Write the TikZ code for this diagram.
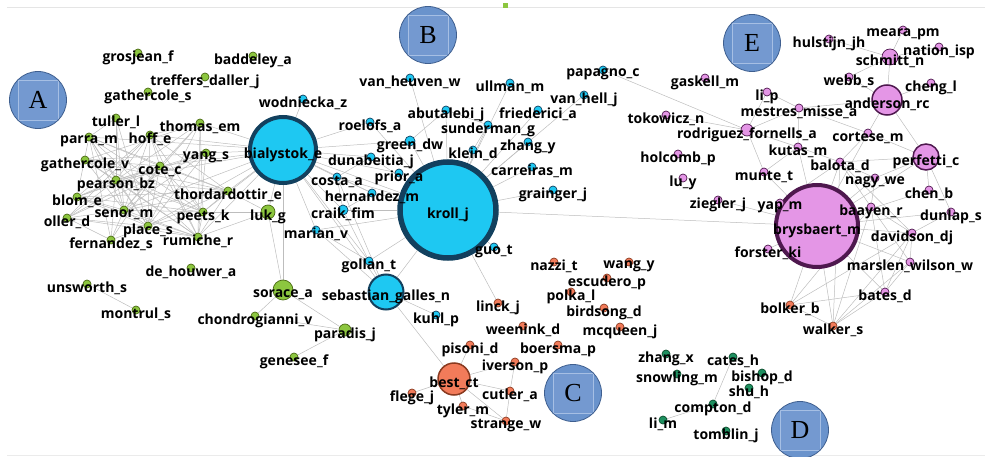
\documentclass[tikz,border=0pt]{standalone}
\usepackage{fontspec}
\usepackage{xcolor}
\usepackage{tikz}
\usetikzlibrary{backgrounds}
\newfontfamily\osans{Open Sans}
\newfontfamily\tagfont{Liberation Serif}

\definecolor{grnfill}{HTML}{8CC63F}
\definecolor{grnline}{HTML}{4A6A12}
\definecolor{bluefill}{HTML}{1EC8F2}
\definecolor{blueline}{HTML}{12405E}
\definecolor{orfill}{HTML}{F27B5A}
\definecolor{orline}{HTML}{8A3A20}
\definecolor{pinkfill}{HTML}{E496E6}
\definecolor{pinkline}{HTML}{4E184E}
\definecolor{dgfill}{HTML}{1E9060}
\definecolor{dgline}{HTML}{0A4A2A}
\definecolor{tagfill}{HTML}{6A93CC}
\definecolor{tagline}{HTML}{3F5F8F}
\definecolor{tagsq}{HTML}{7499D0}
\definecolor{tagsqline}{HTML}{A6BFE4}
\definecolor{linkgray}{HTML}{BDBDBD}

\tikzset{
  dot/.style={circle, inner sep=0pt, minimum size=8pt, line width=0.7pt},
  gn/.style={dot, fill=grnfill, draw=grnline},
  bn/.style={dot, fill=bluefill, draw=blueline},
  orn/.style={dot, fill=orfill, draw=orline},
  pn/.style={dot, fill=pinkfill, draw=pinkline},
  dn/.style={dot, fill=dgfill, draw=dgline},
  lbl/.style={font={\osans\bfseries\fontsize{14}{14}\selectfont}, inner sep=0pt, yshift=-4.5pt},
  link/.style={draw=linkgray, line width=0.5pt},
  tag/.style={circle, minimum size=57pt, inner sep=0pt, fill=tagfill, draw=tagline, line width=0.8pt,
    font={\tagfont\fontsize{26}{26}\selectfont},
    path picture={\draw[tagsqline, fill=tagsq, line width=0.7pt]
      ([shift={(-20pt,-20pt)}]path picture bounding box.center) rectangle ++(40pt,40pt);}}
}

\begin{document}
\begin{tikzpicture}[x=1pt, y=-1pt]
\useasboundingbox (0,0) rectangle (992,457);
\draw[black!10, line width=0.8pt] (7,7) -- (985,7);
\draw[black!8, line width=0.8pt] (7,455) -- (985,455);
\fill[grnfill] (502.5,3) rectangle (507.5,8);

% big nodes
\node[bn, minimum size=66pt, line width=4pt, label={[lbl]center:bialystok\_e}] (bialystok) at (283,150) {};
\node[bn, minimum size=96pt, line width=5.5pt, label={[lbl]center:kroll\_j}] (kroll) at (448,210) {};
\node[pn, minimum size=82pt, line width=4pt, label={[lbl]center:brysbaert\_m}] (brysbaert) at (817,226) {};

% group A
\node[gn, label={[lbl]center:grosjean\_f}] (grosjean) at (138,53) {};
\node[gn, label={[lbl]center:baddeley\_a}] (baddeley) at (253,56) {};
\node[gn, label={[lbl]center:treffers\_daller\_j}] (treffers) at (205,77) {};
\node[gn, label={[lbl]center:gathercole\_s}] (gathS) at (148,92) {};
\node[gn, label={[lbl]center:tuller\_l}] (tuller) at (116,118) {};
\node[gn, label={[lbl]center:thomas\_em}] (thomas) at (200,123) {};
\node[gn, label={[lbl]center:parra\_m}] (parra) at (89,137) {};
\node[gn, label={[lbl]center:hoff\_e}] (hoff) at (150,135) {};
\node[gn, label={[lbl]center:yang\_s}] (yang) at (206,153) {};
\node[gn, label={[lbl]center:gathercole\_v}] (gathV) at (85,160) {};
\node[gn, label={[lbl]center:cote\_c}] (cote) at (160,166) {};
\node[gn, label={[lbl]center:pearson\_bz}] (pearson) at (116,180) {};
\node[gn, label={[lbl]center:blom\_e}] (blom) at (77,197) {};
\node[gn, label={[lbl]center:thordardottir\_e}] (thord) at (228,191) {};
\node[gn, label={[lbl]center:senor\_m}] (senor) at (124,210) {};
\node[gn, label={[lbl]center:peets\_k}] (peets) at (203,212) {};
\node[gn, minimum size=14pt, label={[lbl]center:luk\_g}] (luk) at (268,212) {};
\node[gn, label={[lbl]center:oller\_d}] (oller) at (67,218) {};
\node[gn, label={[lbl]center:place\_s}] (place) at (148,226) {};
\node[gn, label={[lbl]center:fernandez\_s}] (fernandez) at (111,240) {};
\node[gn, label={[lbl]center:rumiche\_r}] (rumiche) at (198,237) {};
\node[gn, label={[lbl]center:de\_houwer\_a}] (dehouwer) at (191,268) {};
\node[gn, label={[lbl]center:unsworth\_s}] (unsworth) at (87,284) {};
\node[gn, label={[lbl]center:montrul\_s}] (montrul) at (136,310) {};
\node[gn, minimum size=20pt, label={[lbl]center:sorace\_a}] (sorace) at (283,290) {};
\node[gn, label={[lbl]center:chondrogianni\_v}] (chondro) at (255,316) {};
\node[gn, minimum size=12pt, label={[lbl]center:paradis\_j}] (paradis) at (345,330) {};
\node[gn, label={[lbl]center:genesee\_f}] (genesee) at (294,357) {};

% group B
\node[bn, label={[lbl]center:wodniecka\_z}] (wodniecka) at (303,99) {};
\node[bn, label={[lbl]center:roelofs\_a}] (roelofs) at (370,122) {};
\node[bn, label={[lbl]center:van\_heuven\_w}] (vanheuven) at (410,78) {};
\node[bn, label={[lbl]center:ullman\_m}] (ullman) at (510,83) {};
\node[bn, label={[lbl]center:papagno\_c}] (papagno) at (603,70) {};
\node[bn, label={[lbl]center:van\_hell\_j}] (vanhell) at (584,95) {};
\node[bn, label={[lbl]center:abutalebi\_j}] (abutalebi) at (446,110) {};
\node[bn, label={[lbl]center:friederici\_a}] (friederici) at (538,110) {};
\node[bn, label={[lbl]center:sunderman\_g}] (sunderman) at (488,125) {};
\node[bn, minimum size=10pt, label={[lbl]center:green\_dw}] (greendw) at (410,141) {};
\node[bn, label={[lbl]center:klein\_d}] (klein) at (473,150) {};
\node[bn, label={[lbl]center:zhang\_y}] (zhangy) at (528,142) {};
\node[bn, label={[lbl]center:dunabeitia\_j}] (dunabeitia) at (371,157) {};
\node[bn, label={[lbl]center:carreiras\_m}] (carreiras) at (532,167) {};
\node[bn, label={[lbl]center:costa\_a}] (costa) at (337,177) {};
\node[bn, label={[lbl]center:prior\_a}] (prior) at (399,173) {};
\node[bn, label={[lbl]center:grainger\_j}] (grainger) at (553,190) {};
\node[bn, label={[lbl]center:hernandez\_m}] (hernandez) at (372,193) {};
\node[bn, minimum size=10pt, label={[lbl]center:craik\_fim}] (craik) at (343,210) {};
\node[bn, label={[lbl]center:marian\_v}] (marian) at (316,230) {};
\node[bn, label={[lbl]center:gollan\_t}] (gollan) at (369,261) {};
\node[bn, label={[lbl]center:guo\_t}] (guo) at (494,247) {};
\node[bn, label={[lbl]center:kuhl\_p}] (kuhl) at (436,315) {};
\node[bn, minimum size=35pt, line width=2pt, label={[lbl]center:sebastian\_galles\_n}] (sebastian) at (386,292) {};

% group C
\node[orn, label={[lbl]center:linck\_j}] (linck) at (498,303) {};
\node[orn, label={[lbl]center:nazzi\_t}] (nazzi) at (554,262) {};
\node[orn, label={[lbl]center:wang\_y}] (wangy) at (629,262) {};
\node[orn, label={[lbl]center:escudero\_p}] (escudero) at (607,278) {};
\node[orn, label={[lbl]center:polka\_l}] (polka) at (571,292) {};
\node[orn, label={[lbl]center:birdsong\_d}] (birdsong) at (604,308) {};
\node[orn, label={[lbl]center:mcqueen\_j}] (mcqueen) at (620,327) {};
\node[orn, label={[lbl]center:weenink\_d}] (weenink) at (523,326) {};
\node[orn, label={[lbl]center:pisoni\_d}] (pisoni) at (470,345) {};
\node[orn, label={[lbl]center:boersma\_p}] (boersma) at (558,345) {};
\node[orn, label={[lbl]center:iverson\_p}] (iverson) at (515,362) {};
\node[orn, minimum size=32pt, line width=1.5pt, label={[lbl]center:best\_ct}] (best) at (454,379) {};
\node[orn, label={[lbl]center:flege\_j}] (flege) at (412,393) {};
\node[orn, label={[lbl]center:cutler\_a}] (cutler) at (510,391) {};
\node[orn, label={[lbl]center:tyler\_m}] (tyler) at (463,406) {};
\node[orn, label={[lbl]center:strange\_w}] (strange) at (506,421) {};
\node[orn, label={[lbl]center:bolker\_b}] (bolker) at (790,305) {};
\node[orn, label={[lbl]center:walker\_s}] (walker) at (833,326) {};

% group E
\node[pn, label={[lbl]center:gaskell\_m}] (gaskell) at (705,78) {};
\node[pn, label={[lbl]center:hulstijn\_jh}] (hulstijn) at (829,39) {};
\node[pn, label={[lbl]center:meara\_pm}] (meara) at (903,30) {};
\node[pn, label={[lbl]center:nation\_isp}] (nation) at (939,47) {};
\node[pn, minimum size=16pt, label={[lbl]center:schmitt\_n}] (schmitt) at (890,57) {};
\node[pn, label={[lbl]center:webb\_s}] (webb) at (849,77) {};
\node[pn, label={[lbl]center:cheng\_l}] (cheng) at (931,83) {};
\node[pn, label={[lbl]center:li\_p}] (lip) at (767,92) {};
\node[pn, minimum size=30pt, line width=1.5pt, label={[lbl]center:anderson\_rc}] (anderson) at (887,100) {};
\node[pn, label={[lbl]center:mestres\_misse\_a}] (mestres) at (799,108) {};
\node[pn, label={[lbl]center:tokowicz\_n}] (tokowicz) at (666,115) {};
\node[pn, minimum size=12pt, label={[lbl]center:rodriguez\_fornells\_a}] (rodriguez) at (747,130) {};
\node[pn, label={[lbl]center:cortese\_m}] (cortese) at (868,133) {};
\node[pn, label={[lbl]center:kutas\_m}] (kutas) at (798,147) {};
\node[pn, label={[lbl]center:holcomb\_p}] (holcomb) at (678,154) {};
\node[pn, minimum size=26pt, line width=1.5pt, label={[lbl]center:perfetti\_c}] (perfetti) at (926,157) {};
\node[pn, label={[lbl]center:balota\_d}] (balota) at (840,162) {};
\node[pn, label={[lbl]center:munte\_t}] (munte) at (764,172) {};
\node[pn, label={[lbl]center:lu\_y}] (luy) at (683,178) {};
\node[pn, label={[lbl]center:nagy\_we}] (nagy) at (875,178) {};
\node[pn, label={[lbl]center:chen\_b}] (chenb) at (929,190) {};
\node[pn, label={[lbl]center:ziegler\_j}] (ziegler) at (718,200) {};
\node[pn, label={[lbl]center:yap\_m}] (yap) at (780,203) {};
\node[pn, label={[lbl]center:baayen\_r}] (baayen) at (871,207) {};
\node[pn, label={[lbl]center:dunlap\_s}] (dunlap) at (951,212) {};
\node[pn, label={[lbl]center:davidson\_dj}] (davidson) at (912,233) {};
\node[pn, label={[lbl]center:forster\_ki}] (forster) at (768,249) {};
\node[pn, label={[lbl]center:marslen\_wilson\_w}] (marslen) at (910,262) {};
\node[pn, label={[lbl]center:bates\_d}] (bates) at (885,292) {};

% group D
\node[dn, label={[lbl]center:zhang\_x}] (zhangx) at (666,354) {};
\node[dn, label={[lbl]center:cates\_h}] (cates) at (733,357) {};
\node[dn, label={[lbl]center:snowling\_m}] (snowling) at (677,374) {};
\node[dn, label={[lbl]center:bishop\_d}] (bishop) at (762,373) {};
\node[dn, label={[lbl]center:shu\_h}] (shu) at (749,388) {};
\node[dn, label={[lbl]center:compton\_d}] (compton) at (713,404) {};
\node[dn, label={[lbl]center:li\_m}] (lim) at (663,420) {};
\node[dn, label={[lbl]center:tomblin\_j}] (tomblin) at (726,431) {};

% cluster tags
\node[tag] (tagA) at (38,100) {A};
\node[tag] (tagB) at (428,35) {B};
\node[tag] (tagC) at (573,393) {C};
\node[tag] (tagD) at (800,430) {D};
\node[tag] (tagE) at (752,43) {E};

% links
\begin{scope}[on background layer]
\path[link] (bialystok) edge (thomas) edge (yang) edge (cote) edge (hoff) edge (parra) edge (thord)
  edge (peets) edge (rumiche) edge (place) edge (senor) edge (pearson) edge (luk) edge (wodniecka)
  edge (roelofs) edge (dunabeitia) edge (costa) edge (hernandez) edge (craik) edge (marian)
  edge (kroll) edge (gollan) edge (sebastian) edge (greendw) edge (prior) edge (sorace);
\path[link] (thomas) edge (cote) edge (pearson) edge (senor) edge (place) edge (peets) edge (rumiche) edge (gathV) edge (hoff);
\path[link] (hoff) edge (pearson) edge (senor) edge (place) edge (rumiche) edge (peets) edge (thord) edge (blom) edge (oller) edge (cote);
\path[link] (parra) edge (cote) edge (pearson) edge (senor) edge (place) edge (rumiche) edge (peets) edge (thord) edge (fernandez) edge (blom);
\path[link] (tuller) edge (pearson) edge (senor) edge (place) edge (parra);
\path[link] (gathV) edge (cote) edge (pearson) edge (senor) edge (peets) edge (rumiche) edge (thord) edge (yang);
\path[link] (yang) edge (pearson) edge (senor) edge (place) edge (blom) edge (oller) edge (rumiche);
\path[link] (cote) edge (pearson) edge (blom) edge (oller) edge (senor) edge (place) edge (fernandez) edge (rumiche) edge (thord) edge (peets);
\path[link] (pearson) edge (blom) edge (oller) edge (senor) edge (place) edge (fernandez) edge (rumiche) edge (peets) edge (thord);
\path[link] (blom) edge (senor) edge (place) edge (rumiche) edge (peets) edge (thord);
\path[link] (senor) edge (oller) edge (place) edge (fernandez) edge (rumiche) edge (peets) edge (thord);
\path[link] (oller) edge (place) edge (fernandez) edge (rumiche);
\path[link] (place) edge (fernandez) edge (rumiche) edge (peets) edge (thord);
\path[link] (peets) edge (rumiche) edge (thord) edge (luk);
\path[link] (rumiche) edge (thord) edge (luk);
\path[link] (luk) edge (sorace) edge (thord);
\path[link] (sorace) edge (chondro) edge (paradis);
\path[link] (paradis) edge (genesee) edge (chondro);
\path[link] (unsworth) edge (montrul);
\path[link] (kroll) edge (abutalebi) edge (sunderman) edge (klein) edge (zhangy) edge (carreiras)
  edge (grainger) edge (prior) edge (dunabeitia) edge (costa) edge (hernandez) edge (craik)
  edge (greendw) edge (vanheuven) edge (roelofs) edge (gollan) edge (sebastian) edge (guo)
  edge (linck) edge (friederici) edge (vanhell) edge (brysbaert) edge (marian) edge (ullman);
\path[link] (sunderman) edge (klein) edge (abutalebi);
\path[link] (abutalebi) edge (greendw);
\path[link] (costa) edge (hernandez) edge (craik) edge (dunabeitia);
\path[link] (hernandez) edge (craik);
\path[link] (gollan) edge (sebastian) edge (craik);
\path[link] (marian) edge (gollan) edge (sebastian);
\path[link] (sebastian) edge (best) edge (kuhl) edge (costa);
\path[link] (papagno) edge (rodriguez);
\path[link] (best) edge (pisoni) edge (iverson) edge (cutler) edge (flege) edge (tyler) edge (strange);
\path[link] (cutler) edge (strange) edge (iverson);
\path[link] (tyler) edge (strange);
\path[link] (bolker) edge (brysbaert) edge (bates) edge (walker) edge (baayen) edge (davidson);
\path[link] (walker) edge (brysbaert) edge (bates) edge (marslen) edge (davidson) edge (baayen) edge (balota);
\path[link] (brysbaert) edge (yap) edge (forster) edge (baayen) edge (davidson) edge (balota) edge (kutas)
  edge (munte) edge (nagy) edge (cortese) edge (marslen) edge (bates) edge (chenb) edge (perfetti)
  edge (dunlap) edge (ziegler);
\path[link] (rodriguez) edge (mestres) edge (lip) edge (munte) edge (kutas) edge (tokowicz);
\path[link] (mestres) edge (lip) edge (kutas) edge (cortese) edge (anderson);
\path[link] (anderson) edge (webb) edge (schmitt) edge (perfetti) edge (cheng) edge (cortese);
\path[link] (schmitt) edge (meara) edge (hulstijn) edge (nation) edge (webb);
\path[link] (perfetti) edge (balota) edge (nagy) edge (chenb) edge (cortese) edge (dunlap);
\path[link] (balota) edge (cortese) edge (kutas) edge (nagy) edge (baayen) edge (yap) edge (davidson);
\path[link] (baayen) edge (davidson) edge (marslen) edge (bates) edge (nagy);
\path[link] (davidson) edge (marslen) edge (bates) edge (dunlap);
\path[link] (marslen) edge (bates);
\path[link] (munte) edge (kutas);
\path[link] (cates) edge (compton);
\path[link] (compton) edge (lim);
\end{scope}
\end{tikzpicture}
\end{document}
